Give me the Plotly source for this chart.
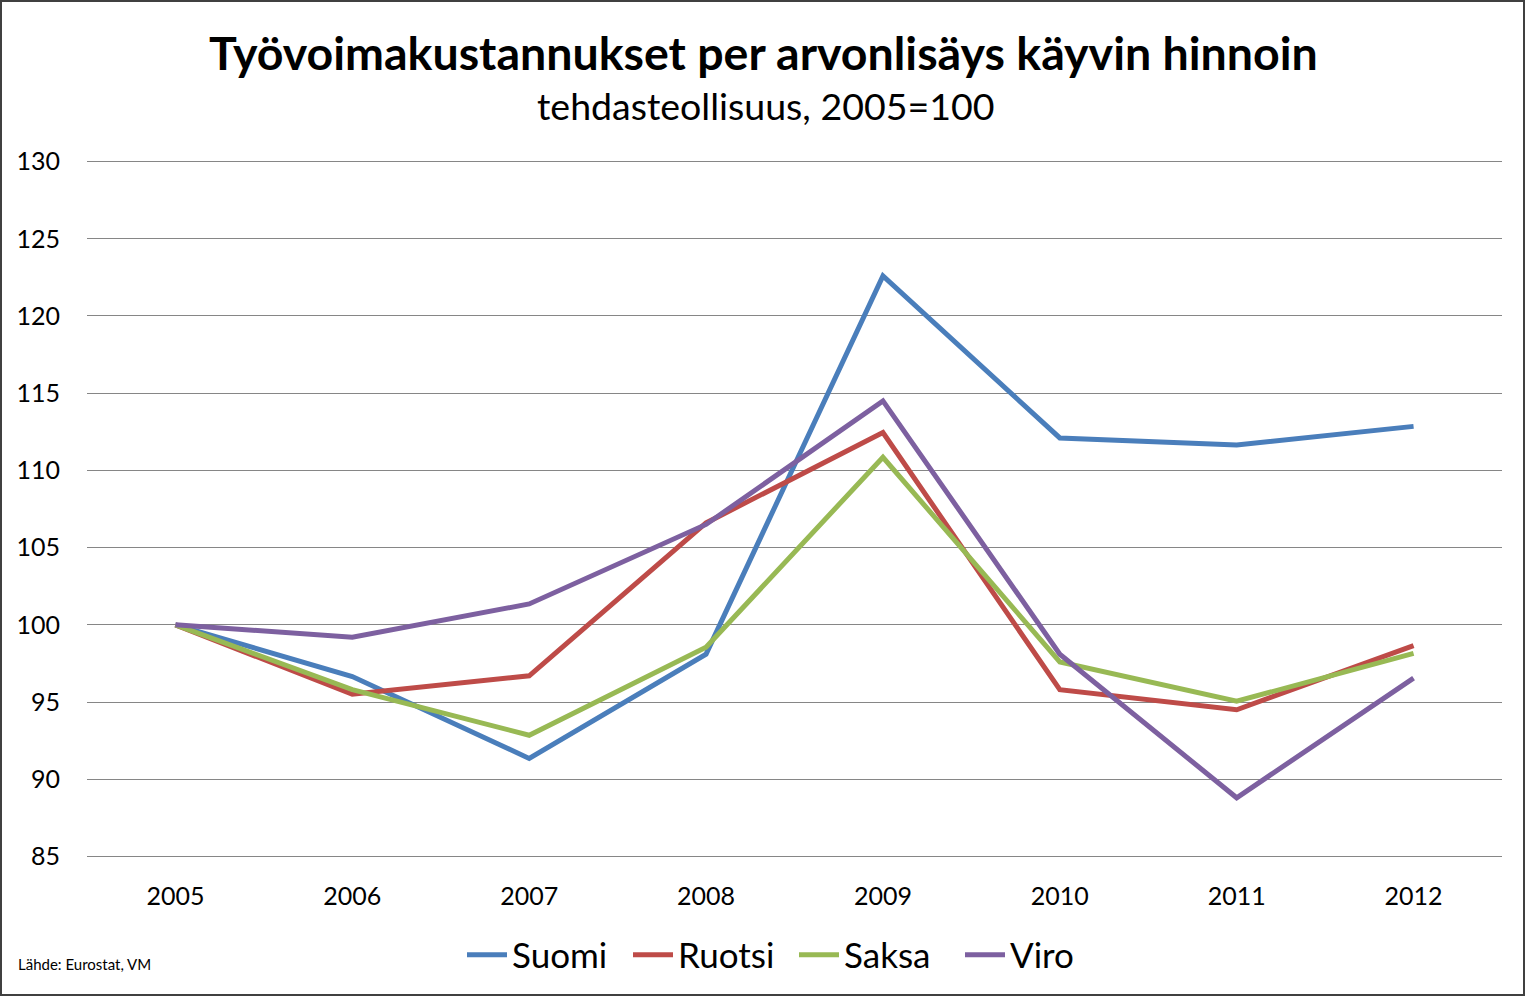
import plotly.graph_objects as go

years = ["2005", "2006", "2007", "2008", "2009", "2010", "2011", "2012"]
suomi = [100, 96.65, 91.35, 98.1, 122.6, 112.1, 111.65, 112.85]
ruotsi = [100, 95.5, 96.7, 106.6, 112.45, 95.8, 94.5, 98.65]
saksa = [100, 95.8, 92.85, 98.55, 110.85, 97.6, 95.05, 98.15]
viro = [100, 99.2, 101.35, 106.5, 114.5, 98.1, 88.8, 96.55]

series = [("Suomi", suomi, "#4A7EBB"), ("Ruotsi", ruotsi, "#BE4B48"),
          ("Saksa", saksa, "#98B954"), ("Viro", viro, "#7D60A0")]

FONT = "Lato"
W, H = 1527, 998
L, R, T, B = 87, 25, 160, 140
pw, ph = W - L - R, H - T - B

fig = go.Figure()
for name, vals, col in series:
    fig.add_trace(go.Scatter(x=years, y=vals, name=name, mode="lines",
                             line=dict(color=col, width=5)))

def px(x):
    return (x - L) / pw

def py(y):
    return (H - B - y) / ph

fig.update_layout(
    width=W, height=H,
    margin=dict(l=L, r=R, t=T, b=B, autoexpand=False),
    paper_bgcolor="white", plot_bgcolor="white",
    font=dict(family=FONT, color="black"),
    showlegend=True,
    legend=dict(orientation="h", x=px(462), xanchor="left", y=py(955), yanchor="middle",
                font=dict(size=35, family=FONT), itemwidth=40, tracegroupgap=0,
                entrywidth=111, entrywidthmode="pixels",
                bgcolor="rgba(0,0,0,0)"),
    xaxis=dict(type="category", range=[-0.5, 7.5], showgrid=False, showline=False,
               zeroline=False, ticks="outside",
               ticklen=16, tickcolor="white", tickfont=dict(size=25, family=FONT)),
    yaxis=dict(range=[84.9, 130.1], tickvals=[85, 90, 95, 100, 105, 110, 115, 120, 125, 130],
               showgrid=True, gridcolor="#868686",
               gridwidth=1, zeroline=False, showline=False, ticks="outside",
               ticklen=21, tickcolor="white", tickfont=dict(size=25, family=FONT)),
    annotations=[
        dict(text="<b>Työvoimakustannukset per arvonlisäys käyvin hinnoin</b>",
             xref="paper", yref="paper", x=px(763), y=py(52), xanchor="center",
             yanchor="middle", showarrow=False, font=dict(size=46.5, family=FONT)),
        dict(text="tehdasteollisuus, 2005=100", xref="paper", yref="paper",
             x=px(765), y=py(106), xanchor="center", yanchor="middle",
             showarrow=False, font=dict(size=37.5, family=FONT)),
        dict(text="Lähde: Eurostat, VM", xref="paper", yref="paper",
             x=px(16), y=py(964), xanchor="left", yanchor="middle",
             showarrow=False, font=dict(size=15, family=FONT)),
    ],
    shapes=[dict(type="rect", xref="paper", yref="paper",
                 x0=px(1), x1=px(1524), y0=py(995), y1=py(1),
                 line=dict(color="#404040", width=2), fillcolor="rgba(0,0,0,0)")],
)

fig.write_html("out.html")
